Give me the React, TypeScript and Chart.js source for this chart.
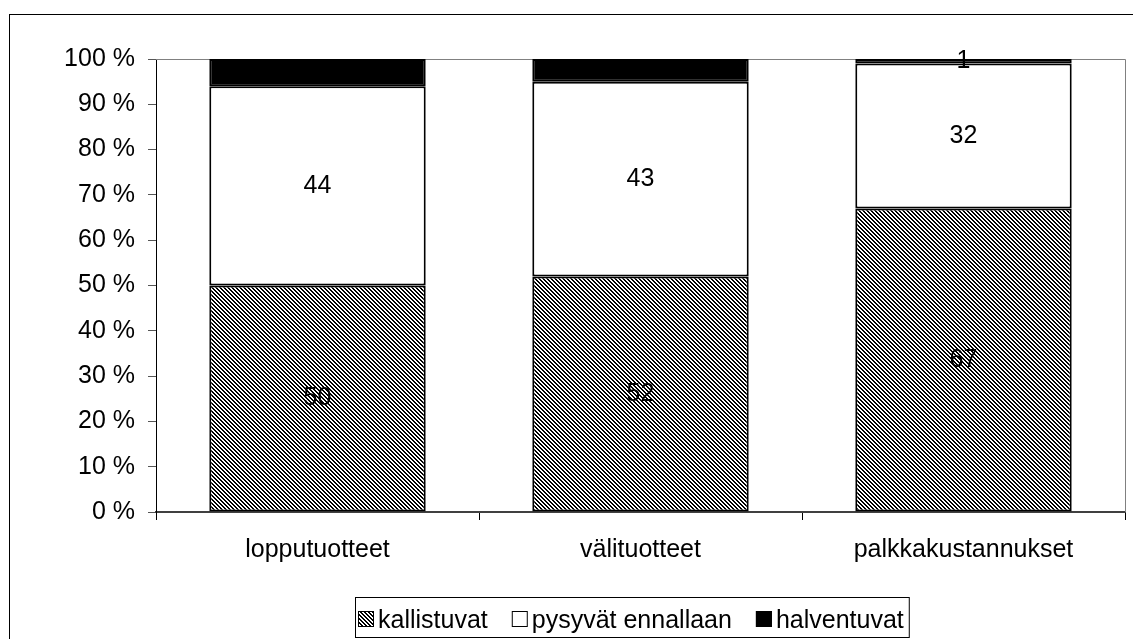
import React, { useEffect, useRef } from "react";
import { Chart, registerables } from "chart.js";

Chart.register(...registerables);

const categories = ["lopputuotteet", "välituotteet", "palkkakustannukset"];
const seriesNames = ["kallistuvat", "pysyvät ennallaan", "halventuvat"];
const kallistuvat = [50, 52, 67];
const pysyvatEnnallaan = [44, 43, 32];
const halventuvat = [6, 5, 1];
const yMin = 0;
const yMax = 100;
const yStep = 10;
const tickSuffix = " %";

const FONT = '"Liberation Sans", Arial, Helvetica, sans-serif';
const FONT_SIZE = 25;

function makeHatch(ctx: CanvasRenderingContext2D): CanvasPattern | string {
  const tile = document.createElement("canvas");
  tile.width = 4;
  tile.height = 4;
  const g = tile.getContext("2d");
  if (!g) return "#777";
  const img = g.createImageData(4, 4);
  for (let y = 0; y < 4; y++) {
    for (let x = 0; x < 4; x++) {
      const on = (((x - y) % 4) + 4) % 4 < 2;
      const i = (y * 4 + x) * 4;
      const v = on ? 0 : 255;
      img.data[i] = v;
      img.data[i + 1] = v;
      img.data[i + 2] = v;
      img.data[i + 3] = 255;
    }
  }
  g.putImageData(img, 0, 0);
  return ctx.createPattern(tile, "repeat") || "#777";
}

export default function App() {
  const canvasRef = useRef<HTMLCanvasElement | null>(null);

  useEffect(() => {
    const canvas = canvasRef.current;
    if (!canvas) return;
    const ctx0 = canvas.getContext("2d") as CanvasRenderingContext2D;
    const hatch = makeHatch(ctx0);
    const fills: any[] = [hatch, "#ffffff", "#000000"];

    const framePlugin = {
      id: "frame",
      beforeDraw(chart: any) {
        const c = chart.ctx;
        c.save();
        c.fillStyle = "#ffffff";
        c.fillRect(0, 0, chart.width, chart.height);
        c.strokeStyle = "#000000";
        c.lineWidth = 1;
        c.strokeRect(9.5, 14.5, 1200, 700);
        c.restore();
      },
      beforeDatasetsDraw(chart: any) {
        const c = chart.ctx;
        const a = chart.chartArea;
        c.save();
        c.strokeStyle = "#808080";
        c.lineWidth = 1;
        c.beginPath();
        c.moveTo(a.left, Math.round(a.top) + 0.5);
        c.lineTo(Math.round(a.right) + 0.5, Math.round(a.top) + 0.5);
        c.lineTo(Math.round(a.right) + 0.5, a.bottom);
        c.stroke();
        c.restore();
      },
    };

    const valuePlugin = {
      id: "values",
      afterDatasetsDraw(chart: any) {
        const c = chart.ctx;
        c.save();
        c.font = `${FONT_SIZE}px ${FONT}`;
        c.fillStyle = "#000000";
        c.textAlign = "center";
        c.textBaseline = "middle";
        chart.data.datasets.forEach((ds: any, i: number) => {
          const meta = chart.getDatasetMeta(i);
          meta.data.forEach((bar: any, j: number) => {
            const v = ds.data[j];
            const y = (bar.y + bar.base) / 2;
            c.fillText(String(v), bar.x, y);
          });
        });
        c.restore();
      },
    };

    const legendPlugin = {
      id: "boxLegend",
      afterDraw(chart: any) {
        const c = chart.ctx;
        c.save();
        c.font = `${FONT_SIZE}px ${FONT}`;
        const sq = 16;
        const gapAfterSq = 4;
        const gapItems = 24;
        const boxLeft = 355;
        const boxTop = 597;
        const boxBottom = 637;
        const centerY = 619;
        const baseline = 628;
        let x = boxLeft + 3;
        const ds = chart.data.datasets;
        ds.forEach((d: any, i: number) => {
          const sy = centerY - sq / 2;
          c.fillStyle = fills[i];
          c.fillRect(x, sy, sq, sq);
          c.strokeStyle = "#000000";
          c.lineWidth = 1;
          c.strokeRect(x + 0.5, sy + 0.5, sq - 1, sq - 1);
          c.fillStyle = "#000000";
          c.textAlign = "left";
          c.textBaseline = "alphabetic";
          const tx = x + sq + gapAfterSq;
          c.fillText(d.label, tx, baseline);
          const w = c.measureText(d.label).width;
          x = tx + w + (i < ds.length - 1 ? gapItems : 0);
        });
        const boxRight = x + 5;
        c.strokeStyle = "#000000";
        c.lineWidth = 1;
        c.strokeRect(boxLeft + 0.5, boxTop + 0.5, boxRight - boxLeft, boxBottom - boxTop);
        c.restore();
      },
    };

    const seriesData = [kallistuvat, pysyvatEnnallaan, halventuvat];

    const chart = new Chart(canvas, {
      type: "bar",
      data: {
        labels: categories,
        datasets: seriesNames.map((name, i) => ({
          label: name,
          data: seriesData[i],
          backgroundColor: fills[i],
          borderColor: "#000000",
          borderWidth: 2,
          borderSkipped: false,
          categoryPercentage: 1,
          barPercentage: 0.67,
        })),
      },
      options: {
        responsive: false,
        animation: false,
        devicePixelRatio: 1,
        layout: { padding: { left: 0, right: 8, top: 59, bottom: 67 } },
        plugins: {
          legend: { display: false },
          tooltip: { enabled: false },
        },
        scales: {
          x: {
            stacked: true,
            afterFit: (s: any) => {
              s.height = 60;
            },
            grid: {
              display: true,
              drawOnChartArea: false,
              drawTicks: true,
              tickLength: 8,
              color: "#000000",
              offset: true,
            },
            border: { display: true, color: "#404040", width: 2 },
            ticks: {
              color: "#000000",
              font: { family: FONT, size: FONT_SIZE },
              padding: 15,
              maxRotation: 0,
            },
          },
          y: {
            stacked: true,
            min: yMin,
            max: yMax,
            afterFit: (s: any) => {
              s.width = 156;
            },
            grid: {
              display: true,
              drawOnChartArea: false,
              drawTicks: true,
              tickLength: 8,
              color: "#555555",
            },
            border: { display: true, color: "#000000", width: 1 },
            ticks: {
              stepSize: yStep,
              color: "#000000",
              font: { family: FONT, size: FONT_SIZE },
              padding: 13,
              callback: (v: any) => `${v}${tickSuffix}`,
            },
          },
        },
      },
      plugins: [framePlugin, valuePlugin, legendPlugin],
    });

    return () => {
      chart.destroy();
    };
  }, []);

  return (
    <div
      style={{
        position: "fixed",
        left: 0,
        top: 0,
        width: 1133,
        height: 639,
        overflow: "hidden",
        background: "#ffffff",
      }}
    >
      <canvas
        ref={canvasRef}
        width={1133}
        height={639}
        style={{ display: "block", width: 1133, height: 639 }}
      />
    </div>
  );
}
